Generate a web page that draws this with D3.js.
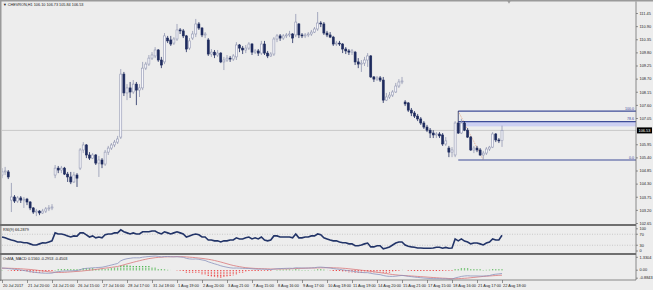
<!DOCTYPE html>
<html>
<head>
<meta charset="utf-8">
<script src="https://cdn.jsdelivr.net/npm/d3@7"></script>
<style>
  body { margin: 0; background: #ededed; }
  svg { display: block; }
  text { font-family: "Liberation Sans", Arial, sans-serif; fill: #222; }
</style>
</head>
<body>
<div id="chart"></div>
<script>
// CHEVRON H1 - bars
const opens = [104.66,104.79,104.79,103.61,103.74,103.57,103.70,103.61,103.65,103.53,103.28,103.11,103.15,103.07,103.15,103.24,103.28,104.66,104.95,104.87,
  104.95,104.70,104.58,104.37,104.66,104.95,105.71,105.92,105.50,105.37,105.50,105.16,105.29,105.12,105.62,105.79,105.92,106.04,106.25,108.89,
  108.10,108.31,108.14,108.47,108.22,108.31,109.14,109.31,109.56,109.65,109.90,109.48,109.40,110.40,110.32,110.19,110.36,110.74,110.70,110.49,
  109.98,110.40,110.57,110.99,110.82,110.53,110.32,109.73,109.81,109.69,109.77,109.40,109.48,109.56,109.52,109.61,110.11,109.98,109.90,109.98,
  110.15,109.81,109.86,109.77,110.15,109.77,109.65,109.73,110.36,110.49,110.40,110.49,110.53,110.57,110.53,110.99,110.53,110.49,110.53,110.57,
  110.65,110.78,111.03,110.99,110.61,110.53,110.44,110.15,110.19,110.15,109.94,109.86,109.81,109.81,109.40,109.31,109.35,109.48,109.65,108.77,
  108.68,108.73,108.64,107.80,107.93,108.01,108.14,108.39,108.56,107.72,107.68,107.38,107.26,107.13,107.01,106.84,106.67,106.54,106.42,106.34,
  106.38,106.34,105.96,105.79,105.62,105.50,106.84,106.42,106.84,106.54,106.25,105.71,105.79,105.71,105.50,105.58,105.75,105.83,106.38,106.13,
  106.10];
const highs = [104.95,105.00,104.87,104.33,103.82,103.78,103.78,103.74,103.70,103.57,103.32,103.24,103.19,103.24,103.32,103.40,103.44,105.08,105.04,105.04,
  105.00,104.79,104.79,104.79,104.74,105.79,106.04,105.96,105.62,105.58,105.54,105.46,105.37,105.71,105.88,106.00,106.13,106.30,109.10,108.98,
  108.47,108.56,108.64,108.56,108.47,109.40,109.40,109.69,109.81,110.02,109.94,109.61,110.61,110.49,110.49,110.44,110.99,110.82,110.78,110.53,
  110.40,110.70,111.20,111.07,110.86,110.65,110.40,109.94,109.90,109.90,109.81,109.61,109.69,109.65,109.73,110.23,110.15,110.07,110.11,110.23,
  110.19,109.94,109.94,110.28,110.28,109.86,109.81,110.44,110.57,110.57,110.57,110.61,110.70,110.61,111.41,111.03,110.61,110.61,110.65,110.74,
  110.86,111.49,111.11,111.07,110.70,110.65,110.49,110.28,110.28,110.19,110.02,109.94,109.94,109.86,109.56,109.48,109.61,109.77,109.69,108.81,
  108.81,108.81,108.77,108.10,108.14,108.22,108.52,108.68,108.77,107.80,107.72,107.47,107.34,107.22,107.09,106.92,106.76,106.63,106.54,106.46,
  106.46,106.42,106.25,105.88,105.83,106.92,107.34,107.01,106.92,106.63,106.30,105.88,105.88,105.79,105.67,105.83,105.88,106.46,106.42,106.21,
  106.73];
const lows = [104.53,104.66,104.49,103.11,103.49,103.49,103.49,103.28,103.40,103.19,103.03,102.94,102.98,103.03,103.07,103.15,103.19,104.53,104.74,104.74,
  104.66,104.37,104.28,104.33,104.16,104.87,105.58,105.37,105.29,105.33,105.08,104.58,104.95,105.04,105.50,105.71,105.83,105.96,106.17,107.97,
  107.80,107.89,108.06,107.59,107.93,108.22,109.06,109.23,109.48,109.56,109.40,109.14,109.31,110.19,110.07,110.11,110.28,110.57,110.40,109.81,
  109.90,110.32,110.44,110.74,110.44,110.40,109.65,109.61,109.56,109.61,109.35,109.06,109.40,109.40,109.44,109.48,109.81,109.73,109.77,109.90,
  109.69,109.73,109.65,109.69,109.69,109.56,109.61,109.65,110.23,110.28,110.32,110.40,110.44,110.19,110.44,110.40,110.40,110.40,110.44,110.49,
  110.61,110.70,110.86,110.53,110.44,110.40,110.07,110.07,110.07,109.77,109.73,109.69,109.69,109.27,109.14,108.98,109.23,109.19,108.73,108.56,
  108.60,108.56,107.68,107.76,107.85,107.93,108.10,108.31,108.47,107.55,107.30,107.13,107.05,106.92,106.76,106.59,106.46,106.21,106.21,106.21,
  106.21,105.88,105.88,105.41,105.41,105.41,106.38,106.38,106.50,106.21,105.67,105.58,105.62,105.46,105.29,105.50,105.67,105.79,106.04,106.00,
  105.84];
const closes = [104.79,104.83,104.58,103.74,103.57,103.70,103.61,103.65,103.53,103.28,103.11,103.15,103.07,103.15,103.24,103.28,103.32,104.95,104.87,104.95,
  104.70,104.58,104.37,104.66,104.53,105.71,105.92,105.50,105.37,105.50,105.16,105.29,105.12,105.62,105.79,105.92,106.04,106.17,108.89,108.10,
  108.31,108.14,108.47,108.22,108.31,109.14,109.31,109.56,109.69,109.90,109.48,109.27,110.49,110.28,110.15,110.36,110.74,110.70,110.49,109.94,
  110.28,110.57,110.99,110.82,110.53,110.57,109.73,109.81,109.69,109.77,109.40,109.48,109.56,109.52,109.65,110.11,109.98,109.90,109.98,110.15,
  109.81,109.86,109.77,110.15,109.77,109.65,109.73,110.36,110.49,110.40,110.49,110.53,110.57,110.40,111.07,110.53,110.49,110.53,110.57,110.65,
  110.78,111.03,110.99,110.61,110.53,110.44,110.15,110.19,110.15,109.94,109.86,109.81,109.86,109.40,109.31,109.35,109.48,109.65,108.77,108.68,
  108.73,108.64,107.80,107.93,108.01,108.14,108.39,108.56,108.60,107.64,107.38,107.26,107.13,107.01,106.84,106.67,106.54,106.42,106.34,106.38,
  106.30,105.96,106.09,105.62,105.71,106.84,106.42,106.84,106.54,106.25,105.71,105.79,105.71,105.50,105.58,105.75,105.83,106.38,106.13,106.09,
  106.53];

const rsiValues = [60,57,53,49,46,42,42,39,39,35,31,31,35,39,38,42,46,75,71,71,
  68,64,60,64,63,75,75,68,60,64,57,60,57,68,71,71,75,75,86,79,
  75,71,75,71,71,79,79,79,82,82,75,71,79,75,71,75,79,75,71,60,
  64,68,71,68,60,60,49,49,46,46,42,46,46,49,49,57,53,53,57,60,
  53,57,53,60,49,46,49,64,64,60,60,60,60,57,71,57,57,60,60,64,
  64,71,68,57,53,49,46,46,42,39,39,35,35,28,28,31,35,38,24,24,
  28,28,17,20,24,31,38,42,42,31,26,24,23,20,20,19,19,19,20,23,
  23,19,22,19,20,53,46,53,45,42,35,38,38,35,31,38,42,53,49,49,
  66.29];

const macdMain = [0.20,0.18,0.15,0.12,0.08,0.05,0.02,-0.03,-0.07,-0.12,-0.17,-0.21,-0.24,-0.26,-0.27,-0.27,-0.26,-0.18,-0.13,-0.09,
  -0.07,-0.06,-0.06,-0.04,-0.03,0.05,0.13,0.17,0.19,0.22,0.23,0.25,0.27,0.33,0.40,0.47,0.54,0.61,0.85,0.97,
  1.04,1.08,1.12,1.12,1.12,1.18,1.21,1.24,1.26,1.28,1.25,1.20,1.24,1.24,1.22,1.21,1.22,1.20,1.17,1.07,
  1.02,1.00,1.02,0.99,0.93,0.88,0.76,0.67,0.58,0.50,0.40,0.33,0.27,0.22,0.19,0.20,0.19,0.17,0.16,0.16,
  0.13,0.11,0.09,0.10,0.09,0.07,0.06,0.10,0.13,0.15,0.16,0.17,0.18,0.17,0.22,0.21,0.20,0.20,0.20,0.21,
  0.23,0.27,0.28,0.26,0.23,0.20,0.15,0.11,0.08,0.03,-0.01,-0.05,-0.08,-0.13,-0.17,-0.20,-0.22,-0.22,-0.28,-0.33,
  -0.37,-0.40,-0.48,-0.53,-0.56,-0.56,-0.54,-0.50,-0.47,-0.50,-0.55,-0.58,-0.62,-0.65,-0.68,-0.71,-0.73,-0.75,-0.76,-0.76,
  -0.76,-0.78,-0.77,-0.80,-0.80,-0.70,-0.63,-0.56,-0.52,-0.50,-0.52,-0.52,-0.52,-0.53,-0.53,-0.51,-0.48,-0.40,-0.36,-0.33,
  -0.2953];
const macdSignal = [0.18,0.18,0.18,0.17,0.16,0.15,0.13,0.11,0.09,0.07,0.04,0.01,-0.03,-0.07,-0.10,-0.14,-0.17,-0.19,-0.20,-0.20,
  -0.19,-0.17,-0.15,-0.13,-0.11,-0.09,-0.06,-0.03,0.00,0.03,0.07,0.11,0.15,0.19,0.22,0.26,0.30,0.34,0.41,0.49,
  0.57,0.64,0.72,0.79,0.86,0.93,0.99,1.05,1.09,1.13,1.16,1.18,1.20,1.21,1.22,1.22,1.23,1.22,1.22,1.20,
  1.18,1.16,1.13,1.10,1.07,1.03,0.99,0.94,0.88,0.81,0.74,0.66,0.58,0.50,0.43,0.37,0.32,0.27,0.23,0.20,
  0.18,0.16,0.15,0.14,0.13,0.12,0.11,0.11,0.11,0.11,0.12,0.12,0.13,0.14,0.15,0.16,0.17,0.18,0.19,0.20,
  0.20,0.21,0.22,0.22,0.23,0.23,0.22,0.21,0.20,0.18,0.16,0.13,0.10,0.07,0.04,0.00,-0.03,-0.07,-0.10,-0.14,
  -0.18,-0.22,-0.26,-0.30,-0.35,-0.39,-0.42,-0.45,-0.47,-0.49,-0.51,-0.52,-0.54,-0.56,-0.58,-0.60,-0.62,-0.64,-0.66,-0.68,
  -0.70,-0.72,-0.73,-0.75,-0.76,-0.77,-0.76,-0.75,-0.73,-0.71,-0.68,-0.65,-0.62,-0.59,-0.56,-0.54,-0.52,-0.50,-0.48,-0.46,
  -0.4503];
const osmaValues = [0.02,0.00,-0.03,-0.05,-0.08,-0.10,-0.11,-0.14,-0.16,-0.19,-0.21,-0.22,-0.21,-0.19,-0.17,-0.13,-0.09,0.01,0.07,0.11,
  0.12,0.11,0.09,0.09,0.08,0.14,0.19,0.20,0.19,0.19,0.16,0.14,0.12,0.14,0.18,0.21,0.24,0.27,0.44,0.48,
  0.47,0.45,0.43,0.40,0.38,0.40,0.38,0.35,0.30,0.25,0.15,0.08,0.06,0.03,0.00,-0.01,-0.02,-0.04,-0.08,-0.20,
  -0.25,-0.28,-0.27,-0.30,-0.38,-0.42,-0.52,-0.58,-0.62,-0.63,-0.65,-0.62,-0.58,-0.52,-0.45,-0.36,-0.28,-0.22,-0.16,-0.10,
  -0.08,-0.07,-0.07,-0.05,-0.05,-0.06,-0.05,-0.01,0.02,0.04,0.04,0.05,0.05,0.03,0.07,0.05,0.03,0.02,0.01,0.01,
  0.03,0.06,0.06,0.04,0.00,-0.03,-0.07,-0.10,-0.12,-0.15,-0.17,-0.18,-0.18,-0.20,-0.21,-0.20,-0.19,-0.15,-0.18,-0.19,
  -0.19,-0.18,-0.22,-0.23,-0.21,-0.17,-0.12,-0.05,0.00,-0.01,-0.04,-0.06,-0.08,-0.09,-0.10,-0.11,-0.11,-0.11,-0.10,-0.08,
  -0.06,-0.06,-0.04,-0.05,-0.04,0.07,0.13,0.19,0.21,0.21,0.16,0.13,0.10,0.06,0.03,0.03,0.04,0.10,0.12,0.13,
  0.156];

const timeLabels = ['20 Jul 2017','21 Jul 20:00','24 Jul 21:00','26 Jul 15:00','27 Jul 16:00','28 Jul 17:00','31 Jul 18:00',
  '1 Aug 19:00','2 Aug 20:00','3 Aug 21:00','7 Aug 15:00','8 Aug 16:00','9 Aug 17:00','10 Aug 18:00','11 Aug 19:00',
  '14 Aug 20:00','15 Aug 21:00','17 Aug 15:00','18 Aug 16:00','21 Aug 17:00','22 Aug 18:00'];
const priceTicks = [111.45,110.90,110.35,109.80,109.25,108.70,108.15,107.60,107.05,105.95,105.40,104.85,104.30,103.75,103.20,102.65];
const rsiTicks = [100,70,30,0];
const rsiLevels = [70,30];
const macdTicks = [1.3304,0,-0.8843];
const macdTickLabels = ['1.3304','0.00','-0.8843'];

const fibLevels = [0,78.6,100];
const fibHigh = 107.34, fibLow = 105.29;
const fibHighBar = 146, fibLowBar = 154;
const bidPrice = 106.53;

const width = 653, height = 290;
const left = 2, right = 636;
const main = { top: 2, bottom: 225 };
const rsiPane = { top: 226, bottom: 253.5 };
const macdPane = { top: 255.5, bottom: 280 };

const svg = d3.select('#chart').append('svg')
  .attr('width', width).attr('height', height);

svg.append('rect').attr('width', width).attr('height', height).attr('fill', '#ededed');

const n = closes.length;
const x = d3.scaleLinear().domain([0, n - 1]).range([2, 502]);
const yPrice = d3.scaleLinear().domain([102.65, 111.45]).range([223, 13]);
const yRsi = d3.scaleLinear().domain([0, 100]).range([rsiPane.bottom, rsiPane.top]);
const yMacd = d3.scaleLinear().domain([-0.8843, 1.3304]).range([macdPane.bottom, macdPane.top]);

const bars = d3.range(n).map(i => ({ i, o: opens[i], h: highs[i], l: lows[i], c: closes[i] }));

// clip for main pane
svg.append('clipPath').attr('id', 'mainClip')
  .append('rect').attr('x', left).attr('y', main.top).attr('width', right - left).attr('height', main.bottom - main.top);

const g = svg.append('g').attr('clip-path', 'url(#mainClip)');

// bid line
g.append('line')
  .attr('x1', left).attr('x2', right)
  .attr('y1', yPrice(bidPrice)).attr('y2', yPrice(bidPrice))
  .style('stroke', '#c9c9c9').style('stroke-width', 1);

// fibo band + levels
const fibPrice = lv => fibLow + (fibHigh - fibLow) * lv / 100;
g.append('rect')
  .attr('x', x(fibHighBar)).attr('width', right - x(fibHighBar))
  .attr('y', yPrice(fibPrice(78.6))).attr('height', yPrice(106.70) - yPrice(fibPrice(78.6)))
  .style('fill', '#cdd0f2');

g.append('line')
  .attr('x1', x(fibHighBar)).attr('y1', yPrice(fibHigh))
  .attr('x2', x(fibLowBar)).attr('y2', yPrice(fibLow))
  .style('stroke', '#e09a78').style('stroke-width', 0.8).style('stroke-dasharray', '1,1');

g.selectAll('.fib')
  .data(fibLevels)
  .enter()
  .append('line')
  .attr('x1', x(fibHighBar)).attr('x2', right)
  .attr('y1', d => yPrice(fibPrice(d))).attr('y2', d => yPrice(fibPrice(d)))
  .style('stroke', '#3e4c98').style('stroke-width', 1.2);

svg.selectAll('.fibLabel')
  .data(fibLevels)
  .enter()
  .append('text')
  .attr('x', right - 2).attr('y', d => yPrice(fibPrice(d)) - 1.2)
  .attr('text-anchor', 'end')
  .style('font-size', '3.6px').style('fill', '#3e4c98')
  .text(d => d.toFixed(1));

// candles
const isBull = d => d.c >= d.o;
g.selectAll('.wick')
  .data(bars)
  .enter()
  .append('line')
  .attr('x1', d => x(d.i)).attr('x2', d => x(d.i))
  .attr('y1', d => yPrice(d.h)).attr('y2', d => yPrice(d.l))
  .style('stroke', d => isBull(d) ? '#9297b2' : '#1e2b5e')
  .style('stroke-width', 0.8);

g.selectAll('.body')
  .data(bars)
  .enter()
  .append('rect')
  .attr('x', d => x(d.i) - 1)
  .attr('width', 2)
  .attr('y', d => yPrice(Math.max(d.o, d.c)))
  .attr('height', d => Math.max(0.8, Math.abs(yPrice(d.o) - yPrice(d.c))))
  .style('fill', d => isBull(d) ? '#f7f7fb' : '#1e2b5e')
  .style('stroke', d => isBull(d) ? '#9297b2' : '#1e2b5e')
  .style('stroke-width', 0.6);

// RSI pane
svg.selectAll('.rsiLevel')
  .data(rsiLevels)
  .enter()
  .append('line')
  .attr('x1', left).attr('x2', right)
  .attr('y1', d => yRsi(d)).attr('y2', d => yRsi(d))
  .style('stroke', '#b0b0b0').style('stroke-width', 0.6).style('stroke-dasharray', '1,1.5');

svg.append('path')
  .datum(rsiValues)
  .attr('d', d3.line().x((d, i) => x(i)).y(d => yRsi(d)))
  .style('fill', 'none').style('stroke', '#223468').style('stroke-width', 1.6);

// MACD pane
svg.selectAll('.osma')
  .data(osmaValues)
  .enter()
  .append('line')
  .attr('x1', (d, i) => x(i)).attr('x2', (d, i) => x(i))
  .attr('y1', yMacd(0)).attr('y2', d => yMacd(d))
  .style('stroke', d => d >= 0 ? '#1aa31a' : '#ee1c1c')
  .style('stroke-width', 1.3).style('stroke-dasharray', '0.8,0.8');

svg.append('path')
  .datum(macdSignal)
  .attr('d', d3.line().x((d, i) => x(i)).y(d => yMacd(d)))
  .style('fill', 'none').style('stroke', '#d9777a').style('stroke-width', 0.8);

svg.append('path')
  .datum(macdMain)
  .attr('d', d3.line().x((d, i) => x(i)).y(d => yMacd(d)))
  .style('fill', 'none').style('stroke', '#8c93bd').style('stroke-width', 0.8);

// frame
svg.append('rect').attr('x', 0).attr('y', 0).attr('width', width).attr('height', 1.5).style('fill', '#9a9a9a');
svg.append('rect').attr('x', 0).attr('y', 0).attr('width', 1.5).attr('height', 281).style('fill', '#9a9a9a');
[main.bottom, rsiPane.bottom + 0.5].forEach(yy => {
  svg.append('line').attr('x1', 0).attr('x2', right).attr('y1', yy).attr('y2', yy)
    .style('stroke', '#6f6f6f').style('stroke-width', 1.8);
});
svg.append('line').attr('x1', right).attr('x2', right).attr('y1', 1.5).attr('y2', macdPane.bottom)
  .style('stroke', '#6f6f6f').style('stroke-width', 0.8);
svg.append('line').attr('x1', 0).attr('x2', right).attr('y1', macdPane.bottom).attr('y2', macdPane.bottom)
  .style('stroke', '#6f6f6f').style('stroke-width', 0.8);

// shift marker
svg.append('path').attr('d', d3.symbol(d3.symbolTriangle, 6)())
  .attr('transform', 'translate(509,1.6) rotate(180)').style('fill', '#9a9a9a');

// axes
const styleAxis = sel => {
  sel.select('.domain').remove();
  sel.selectAll('line').style('stroke', '#555').style('stroke-width', 0.6);
  sel.selectAll('text').style('font-size', '3.9px').style('fill', '#222');
};

svg.append('g').attr('transform', `translate(${right},0)`)
  .call(d3.axisRight(yPrice).tickValues(priceTicks).tickSize(2).tickPadding(1.5).tickFormat(d3.format('.2f')))
  .call(styleAxis);

// bid box
svg.append('rect').attr('x', right + 1).attr('y', yPrice(bidPrice) - 3).attr('width', 15).attr('height', 6).style('fill', '#000');
svg.append('text').attr('x', right + 2.5).attr('y', yPrice(bidPrice) + 1.4)
  .style('font-size', '3.9px').style('fill', '#fff').text(bidPrice.toFixed(2));

const rsiAxis = svg.append('g').attr('transform', `translate(${right},0)`)
  .call(d3.axisRight(yRsi).tickValues(rsiTicks).tickSize(2).tickPadding(1.5))
  .call(styleAxis);
rsiAxis.selectAll('.tick').attr('transform', d => `translate(0,${Math.min(251, Math.max(228.8, yRsi(d)))})`);

const macdAxis = svg.append('g').attr('transform', `translate(${right},0)`)
  .call(d3.axisRight(yMacd).tickValues(macdTicks).tickSize(2).tickPadding(1.5)
    .tickFormat((d, i) => macdTickLabels[i]))
  .call(styleAxis);
macdAxis.selectAll('.tick').attr('transform', d => `translate(0,${Math.min(278.2, Math.max(257.3, yMacd(d)))})`);

const timeAxis = svg.append('g').attr('transform', `translate(0,${macdPane.bottom})`)
  .call(d3.axisBottom(x).tickValues(d3.range(0, n, 8)).tickSize(3).tickPadding(1.5)
    .tickFormat((d, i) => timeLabels[i]))
  .call(styleAxis);
timeAxis.selectAll('text').attr('text-anchor', 'start').attr('dx', '0.6');

// pane titles
svg.append('text').attr('x', 3).attr('y', 6).style('font-size', '3.8px')
  .text('\u25BC CHEVRON,H1  106.10 106.73 105.84 106.53');
svg.append('text').attr('x', 3).attr('y', 231).style('font-size', '3.8px')
  .text('RSI(9) 66.2879');
svg.append('text').attr('x', 3).attr('y', 260).style('font-size', '3.8px')
  .text('OsMA_MACD 0.1560 -0.2953 -0.4503');
</script>
</body>
</html>
